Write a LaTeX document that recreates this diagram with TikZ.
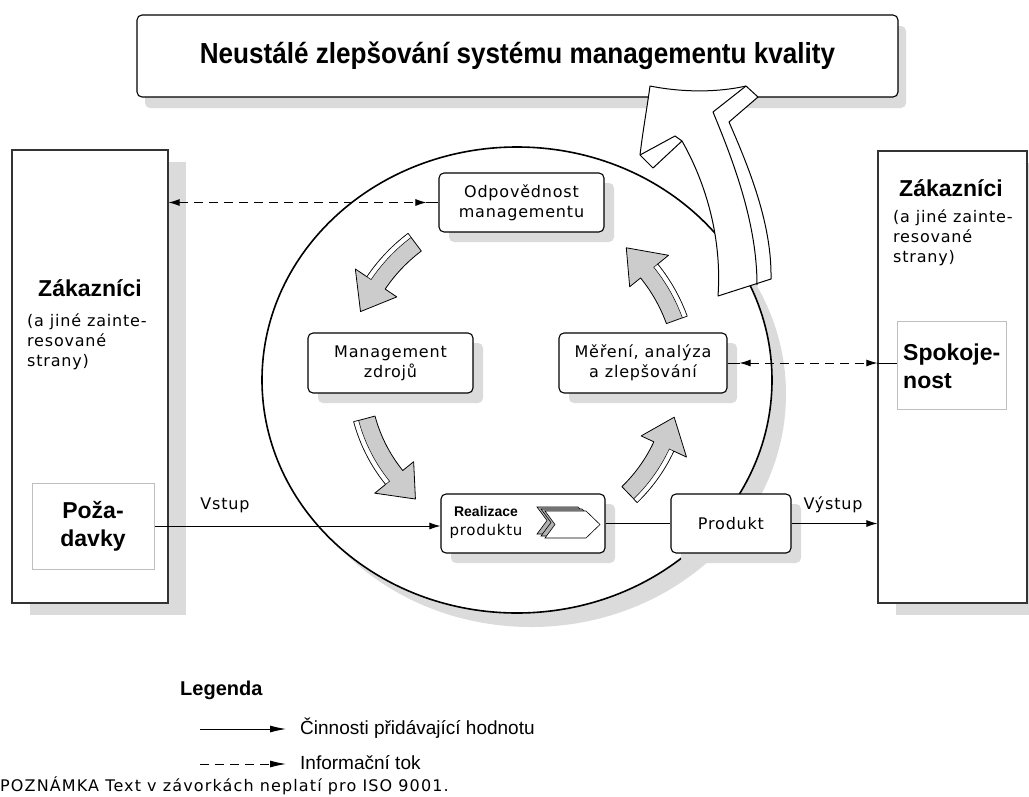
\documentclass[tikz,border=0pt]{standalone}
\usepackage{fontspec}
\usepackage{graphicx}
\setmainfont[LetterSpace=5]{DejaVu Sans}
\newfontfamily\arialf{Liberation Sans}
\newfontfamily\notefont[LetterSpace=7]{DejaVu Sans}
\usetikzlibrary{shadows,arrows.meta,calc}

% curved gray arrow of the inner cycle: radius, tail angle, head-base angle, tip angle
\newcommand\cyclearrow[4]{%
  \filldraw[cyclefill]
    plot[domain=#2:#3,samples=16] ({517+(#1+11)*cos(\x)},{378+(#1+11)*sin(\x)})
    -- ({517+(#1+25)*cos(#3)},{378+(#1+25)*sin(#3)})
    -- ({517+#1*cos(#4)},{378+#1*sin(#4)})
    -- ({517+(#1-25)*cos(#3)},{378+(#1-25)*sin(#3)})
    -- plot[domain=#3:#2,samples=16] ({517+(#1-11)*cos(\x)},{378+(#1-11)*sin(\x)})
    -- cycle;
  \filldraw[fill=white, draw=black, line width=0.5pt]
    plot[domain=#2:#3,samples=16] ({517+(#1+11)*cos(\x)},{378+(#1+11)*sin(\x)})
    -- plot[domain=#3:#2,samples=16] ({517+(#1+6)*cos(\x)},{378+(#1+6)*sin(\x)})
    -- cycle;
}
% one sheet of the stacked chevron icon
\newcommand\chevsheet[3]{%
  \filldraw[fill=#3, draw=black, line width=0.6pt]
    (545+#1,511+#2) -- (586+#1,511+#2) -- (600+#1,524.5+#2) -- (586+#1,538+#2)
    -- (545+#1,538+#2) -- (555+#1,524.5+#2) -- cycle;
}

\begin{document}
\begin{tikzpicture}[x=1pt,y=-1pt,
  procbox/.style={draw=black, line width=1.1pt, rounded corners=5pt, fill=white,
    align=center, inner sep=0pt, font=\fontsize{16}{20}\selectfont},
  pshadow/.style={drop shadow={shadow xshift=10pt, shadow yshift=-10pt, fill=black!14, opacity=1}},
  sidebox/.style={draw=black!80, line width=1.2pt, fill=white,
    drop shadow={shadow xshift=18pt, shadow yshift=-12pt, fill=black!14, opacity=1}},
  inbox/.style={draw=black!25, line width=1pt, fill=white},
  boldlbl/.style={font=\arialf\bfseries\fontsize{23}{28}\selectfont, inner sep=0pt},
  smalltxt/.style={font=\fontsize{16}{20}\selectfont, align=left, inner sep=0pt},
  lbl/.style={font=\fontsize{16}{20}\selectfont, inner sep=0pt},
  flowline/.style={line width=0.9pt},
  tip/.style={-{Latex[length=11pt,width=7pt]}},
  infoflow/.style={line width=0.9pt, dash pattern=on 9pt off 6pt,
    {Latex[length=11pt,width=7pt]}-{Latex[length=11pt,width=7pt]}},
  cyclefill/.style={fill=black!20, draw=black, line width=0.8pt, line join=round},
  bigarrow/.style={fill=white, draw=black, line width=1pt, line join=round}
]
\useasboundingbox (0,0) rectangle (1029,796);

% heading box
\node[procbox, drop shadow={shadow xshift=8pt, shadow yshift=-11pt, fill=black!14, opacity=1},
  minimum width=761pt, minimum height=82pt] (title) at (517.5,56)
  {\scalebox{0.9}[1]{\arialf\bfseries\fontsize{29}{32}\selectfont Neustálé zlepšování systému managementu kvality}};

% customers on both sides
\node[sidebox, minimum width=156pt, minimum height=453pt] (lbox) at (90,376.5) {};
\node[sidebox, minimum width=149pt, minimum height=452pt] (rbox) at (952.5,377) {};

\node[boldlbl] (lz) at (90,288) {Zákazníci};
\node[smalltxt, anchor=west] (lzs) at (27,342) {(a jiné zainte-\\resované\\strany)};
\node[inbox, minimum width=122pt, minimum height=86pt, align=center,
  font=\arialf\bfseries\fontsize{23}{28}\selectfont] (poz) at (93,526) {Poža-\\davky};

\node[boldlbl] (rz) at (951,188) {Zákazníci};
\node[smalltxt, anchor=west] (rzs) at (893,238) {(a jiné zainte-\\resované\\strany)};
\node[inbox, minimum width=109pt, minimum height=88pt] (spok) at (951.5,365) {};
\node[boldlbl, align=left, anchor=west] (spokt) at (903,366.5) {Spokoje-\\nost};

% the process cycle
\fill[black!14] (531,394) ellipse [x radius=255pt, y radius=233pt];
\draw[line width=1.6pt, fill=white] (517,380) ellipse [x radius=255pt, y radius=233pt];

% continual improvement arrow leaving the cycle
\filldraw[bigarrow] (650,86) .. controls (685,93) and (720,92) .. (746,86) -- (758,97) -- (729,122)
  .. controls (750,170) and (772,225) .. (771,279) -- (718,296)
  .. controls (722,240) and (707,185) .. (682,141) -- (653,168) -- (640,155)
  .. controls (643,130) and (647,108) .. (650,86) -- cycle;
\draw[line width=1pt, line join=round] (746,86) -- (713,112) .. controls (735,165) and (757,225) .. (757,285);
\draw[line width=1pt, line join=round] (640,155) -- (675,136) -- (682,141);

% process boxes
\node[procbox, pshadow, minimum width=165pt, minimum height=59pt] (odp) at (521.5,202.5) {Odpovědnost\\managementu};
\node[procbox, pshadow, minimum width=165pt, minimum height=60pt] (mz) at (390.5,363) {Management\\zdrojů};
\node[procbox, pshadow, minimum width=168pt, minimum height=60pt] (mer) at (643,363) {Měření, analýza\\a zlepšování};
\node[procbox, pshadow, minimum width=164pt, minimum height=59pt] (real) at (523,523.5) {};
\node[procbox, pshadow, minimum width=120pt, minimum height=59pt] (prod) at (731,523.5) {Produkt};
\node[align=center, inner sep=0pt, font=\fontsize{15}{19}\selectfont] (realt) at (486,522.5)
  {{\arialf\bfseries\fontsize{14}{19}\selectfont Realizace}\\produktu};
\chevsheet{-8}{-4}{black!30}
\chevsheet{-4}{-2}{black!30}
\chevsheet{0}{0}{white}

% cycle arrows
\cyclearrow{170}{233}{214}{203}
\cyclearrow{158}{165}{141}{130}
\cyclearrow{162}{46}{25}{14}
\cyclearrow{170}{340}{321}{310}

% value adding flow
\draw[flowline, tip] (poz.east) -- (poz.east -| real.west);
\node[lbl] (vst) at (225,505) {Vstup};
\draw[flowline] (real.east) -- (prod.west);
\draw[flowline, tip] (prod.east) -- (prod.east -| rbox.west);
\node[lbl] (vyst) at (833,505) {Výstup};

% information flow
\draw[flowline] (odp.west) -- ++(-12,0) coordinate (i1);
\draw[infoflow] (lbox.east |- odp.west) -- (i1);
\draw[flowline] (mer.east) -- ++(12,0) coordinate (i2);
\draw[infoflow] (i2) -- (rbox.west |- mer.east);
\draw[flowline] (rbox.west |- mer.east) -- (spok.west |- mer.east);

% legend
\node[anchor=west, inner sep=0pt, font=\arialf\bfseries\fontsize{20}{24}\selectfont] (leg) at (180,690) {Legenda};
\coordinate (la1) at (200,729);
\coordinate (la2) at (286,729);
\draw[flowline, -{Latex[length=16pt,width=7pt]}] (la1) -- (la2);
\node[anchor=west, inner sep=0pt, font=\arialf\fontsize{19}{23}\selectfont] (lt1) at (300,728) {Činnosti přidávající hodnotu};
\coordinate (lb1) at (200,764);
\coordinate (lb2) at (286,764);
\draw[flowline, dash pattern=on 9pt off 6pt, -{Latex[length=16pt,width=7pt]}] (lb1) -- (lb2);
\node[anchor=west, inner sep=0pt, font=\arialf\fontsize{19}{23}\selectfont] (lt2) at (300,763) {Informační tok};
\node[anchor=west, inner sep=0pt, font=\notefont\fontsize{16}{18}\selectfont] (note) at (0,786) {POZNÁMKA Text v závorkách neplatí pro ISO 9001.};
\end{tikzpicture}
\end{document}
